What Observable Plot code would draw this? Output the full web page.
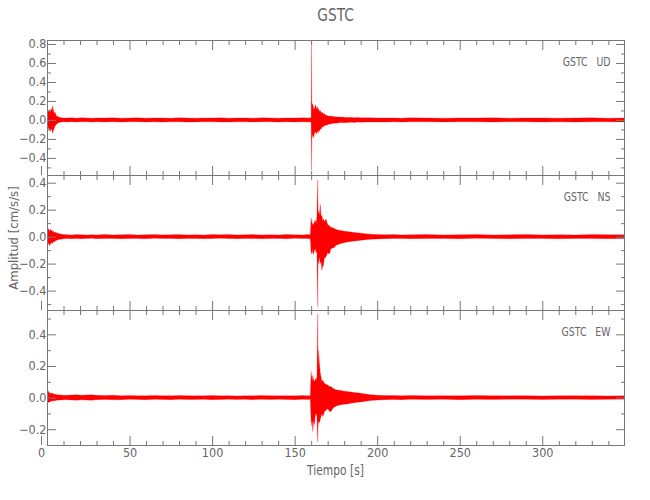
<!DOCTYPE html>
<html><head><meta charset="utf-8">
<script src="https://cdn.jsdelivr.net/npm/d3@7"></script>
<script src="https://cdn.jsdelivr.net/npm/@observablehq/plot@0.6"></script>
<style>
body{margin:0;background:#fff;}
#wrap{position:relative;width:650px;height:500px;font-family:"Liberation Sans Narrow","DejaVu Sans Condensed",sans-serif;color:#666;}
.panel{position:absolute;left:0;}
.panel svg{overflow:visible;}
#title{position:absolute;top:5px;left:47px;width:577px;text-align:center;font-size:17px;transform:scaleX(0.9);}
#xlab{position:absolute;top:462px;left:47px;width:577px;text-align:center;font-size:14px;transform:scaleX(0.85);}
#ylab{position:absolute;left:13px;top:238px;transform:translate(-50%,-50%) rotate(-90deg);white-space:nowrap;font-size:13px;}
</style></head>
<body><div id="wrap">
<div id="title">GSTC</div>
<div id="ylab">Amplitud [cm/s/s]</div>
<div id="xlab">Tiempo [s]</div>
</div>
<script>
// Sample times (s)
const time = [
 0,0.5,1,1.5,2,2.5,3,3.5,4,4.5,5,5.5,6,6.5,7,8,9,10,
 12,15,18,21,24,27,30,35,40,45,50,55,60,65,70,75,80,85,90,95,100,105,110,115,120,125,130,135,140,145,150,155,158,159.5,
 160,160.2,160.4,160.7,161,161.5,162,162.5,163,163.5,164,164.2,164.5,165,165.5,166,166.5,167,167.5,168,169,170,171,172,173,174,175,176,178,180,182,184,186,188,190,193,196,200,
 205,210,215,220,230,240,250,260,270,280,290,300,310,320,330,340,350
];
// UD component envelope (cm/s/s)
const udHi = [
 0.06,0.10,0.09,0.11,0.08,0.12,0.10,0.15,0.09,0.07,0.08,0.05,0.04,0.035,0.03,0.025,0.022,0.02,
 0.02,0.022,0.019,0.024,0.02,0.018,0.021,0.02,0.023,0.019,0.02,0.022,0.018,0.021,0.02,0.019,0.023,0.02,0.018,0.021,0.02,0.022,0.019,0.02,0.021,0.018,0.022,0.02,0.019,0.021,0.02,0.023,0.02,0.021,
 0.03,0.84,0.19,0.15,0.17,0.11,0.12,0.16,0.14,0.11,0.14,0.10,0.12,0.09,0.10,0.08,0.07,0.08,0.06,0.065,0.05,0.045,0.04,0.042,0.035,0.036,0.032,0.03,0.03,0.028,0.026,0.027,0.024,0.025,0.023,0.022,0.023,0.021,
 0.02,0.021,0.019,0.022,0.02,0.018,0.021,0.02,0.022,0.019,0.02,0.021,0.018,0.02,0.022,0.019,0.02
];
const udLo = [
 -0.05,-0.11,-0.08,-0.10,-0.12,-0.09,-0.11,-0.14,-0.10,-0.08,-0.06,-0.05,-0.04,-0.035,-0.03,-0.025,-0.022,-0.02,
 -0.021,-0.019,-0.022,-0.02,-0.018,-0.023,-0.02,-0.021,-0.019,-0.022,-0.02,-0.018,-0.021,-0.02,-0.023,-0.019,-0.02,-0.022,-0.021,-0.018,-0.02,-0.021,-0.022,-0.019,-0.02,-0.021,-0.018,-0.02,-0.022,-0.019,-0.021,-0.02,-0.022,-0.02,
 -0.03,-0.53,-0.21,-0.17,-0.15,-0.19,-0.14,-0.12,-0.15,-0.13,-0.12,-0.14,-0.11,-0.12,-0.09,-0.10,-0.08,-0.07,-0.07,-0.06,-0.055,-0.05,-0.045,-0.04,-0.038,-0.034,-0.035,-0.032,-0.028,-0.03,-0.027,-0.025,-0.026,-0.023,-0.024,-0.023,-0.021,-0.022,
 -0.021,-0.02,-0.022,-0.019,-0.02,-0.021,-0.018,-0.02,-0.022,-0.02,-0.019,-0.021,-0.02,-0.022,-0.019,-0.02,-0.021
];
// NS component envelope
const nsHi = [
 0.03,0.05,0.06,0.04,0.055,0.045,0.05,0.035,0.04,0.03,0.035,0.025,0.03,0.022,0.025,0.02,0.018,0.016,
 0.014,0.013,0.015,0.014,0.012,0.014,0.013,0.016,0.013,0.014,0.015,0.012,0.014,0.015,0.013,0.014,0.015,0.013,0.014,0.012,0.015,0.014,0.015,0.013,0.014,0.015,0.013,0.014,0.012,0.015,0.014,0.013,0.015,0.014,
 0.14,0.10,0.12,0.08,0.10,0.09,0.11,0.12,0.10,0.15,0.42,0.20,0.18,0.16,0.24,0.15,0.16,0.12,0.13,0.11,0.13,0.09,0.08,0.07,0.065,0.06,0.055,0.05,0.045,0.04,0.038,0.035,0.03,0.028,0.026,0.022,0.018,0.016,
 0.014,0.015,0.013,0.014,0.015,0.013,0.014,0.015,0.012,0.014,0.015,0.013,0.014,0.012,0.015,0.014,0.013
];
const nsLo = [
 -0.03,-0.06,-0.045,-0.07,-0.05,-0.055,-0.04,-0.05,-0.035,-0.04,-0.03,-0.03,-0.025,-0.025,-0.022,-0.02,-0.018,-0.016,
 -0.014,-0.015,-0.013,-0.015,-0.014,-0.012,-0.015,-0.013,-0.014,-0.015,-0.013,-0.014,-0.015,-0.012,-0.014,-0.013,-0.015,-0.014,-0.013,-0.015,-0.014,-0.012,-0.014,-0.015,-0.013,-0.014,-0.015,-0.013,-0.014,-0.015,-0.012,-0.014,-0.013,-0.015,
 -0.12,-0.11,-0.13,-0.09,-0.12,-0.13,-0.10,-0.09,-0.12,-0.11,-0.52,-0.18,-0.20,-0.15,-0.20,-0.18,-0.25,-0.22,-0.21,-0.16,-0.15,-0.12,-0.13,-0.09,-0.085,-0.08,-0.065,-0.06,-0.05,-0.045,-0.04,-0.036,-0.033,-0.03,-0.027,-0.024,-0.02,-0.017,
 -0.015,-0.013,-0.014,-0.015,-0.013,-0.014,-0.015,-0.012,-0.014,-0.015,-0.013,-0.014,-0.015,-0.013,-0.014,-0.015,-0.013
];
// EW component envelope
const ewHi = [
 0.03,0.045,0.035,0.03,0.028,0.025,0.03,0.022,0.025,0.02,0.022,0.018,0.02,0.017,0.018,0.016,0.016,0.014,
 0.014,0.016,0.018,0.015,0.017,0.018,0.014,0.013,0.015,0.012,0.013,0.012,0.011,0.013,0.012,0.011,0.013,0.012,0.011,0.012,0.013,0.011,0.012,0.010,0.012,0.011,0.013,0.012,0.011,0.012,0.011,0.013,0.012,0.011,
 0.165,0.12,0.14,0.10,0.14,0.11,0.10,0.12,0.11,0.13,0.53,0.20,0.30,0.22,0.16,0.13,0.10,0.11,0.10,0.09,0.085,0.08,0.07,0.07,0.06,0.055,0.05,0.048,0.045,0.04,0.038,0.035,0.032,0.03,0.027,0.022,0.018,0.015,
 0.013,0.013,0.012,0.013,0.011,0.012,0.011,0.013,0.012,0.011,0.012,0.010,0.011,0.012,0.011,0.010,0.011
];
const ewLo = [
 -0.025,-0.035,-0.03,-0.028,-0.025,-0.022,-0.024,-0.02,-0.022,-0.018,-0.02,-0.018,-0.017,-0.016,-0.017,-0.015,-0.015,-0.014,
 -0.013,-0.015,-0.017,-0.014,-0.016,-0.017,-0.013,-0.012,-0.014,-0.013,-0.011,-0.012,-0.013,-0.011,-0.012,-0.013,-0.011,-0.012,-0.012,-0.011,-0.013,-0.012,-0.010,-0.012,-0.011,-0.013,-0.011,-0.012,-0.011,-0.012,-0.013,-0.011,-0.012,-0.011,
 -0.16,-0.13,-0.18,-0.14,-0.215,-0.15,-0.17,-0.11,-0.10,-0.12,-0.28,-0.18,-0.15,-0.16,-0.14,-0.12,-0.10,-0.12,-0.11,-0.09,-0.08,-0.07,-0.085,-0.09,-0.07,-0.06,-0.055,-0.05,-0.045,-0.042,-0.04,-0.036,-0.033,-0.03,-0.028,-0.023,-0.019,-0.016,
 -0.013,-0.012,-0.013,-0.011,-0.012,-0.011,-0.013,-0.011,-0.012,-0.010,-0.011,-0.012,-0.011,-0.010,-0.012,-0.011,-0.010
];
// Labels and ticks
const channelLabels = ["GSTC\u00a0\u00a0\u00a0UD", "GSTC\u00a0\u00a0\u00a0NS", "GSTC\u00a0\u00a0\u00a0EW"];
const xMajorTicks = [0, 50, 100, 150, 200, 250, 300];
const xMinorTicks = [10,20,30,40,60,70,80,90,110,120,130,140,160,170,180,190,210,220,230,240,260,270,280,290,310,320,330,340];
const udMajor = [-0.4,-0.2,0,0.2,0.4,0.6,0.8];
const udMinor = [-0.5,-0.3,-0.1,0.1,0.3,0.5,0.7];
const nsMajor = [-0.4,-0.2,0,0.2,0.4];
const nsMinor = [-0.5,-0.3,-0.1,0.1,0.3];
const ewMajor = [-0.2,0,0.2,0.4];
const ewMinor = [-0.1,0.1,0.3,0.5];

const wrap = document.getElementById("wrap");
const fmt = d3.format(".1f");
const blank = () => "";

function panel(lo, hi, domain, majors, minors, label, top, isBottom) {
  const n = Math.min(time.length, lo.length, hi.length);
  const rows = [];
  for (let i = 0; i < n; i++) rows.push({t: time[i], lo: lo[i], hi: hi[i]});
  const h = 135 + (isBottom ? 30 : 0);
  const ax = {label: null, stroke: "#777"};
  const chart = Plot.plot({
    width: 650, height: h,
    marginLeft: 47, marginRight: 26, marginTop: 0, marginBottom: isBottom ? 30 : 0,
    style: {fontFamily: '"Liberation Sans Narrow","DejaVu Sans Condensed",sans-serif', fontSize: "12.5px", color: "#666", background: "transparent", overflow: "visible"},
    x: {domain: [0, 349.5]},
    y: {domain},
    marks: [
      Plot.areaY(rows, {x: "t", y1: "lo", y2: "hi", fill: "#ff0000", stroke: "#ff0000", strokeWidth: 0.25, clip: true}),
      Plot.frame({stroke: "#777"}),
      Plot.axisY(majors, {...ax, anchor: "left", tickSize: -9, tickPadding: 10, tickFormat: fmt}),
      Plot.axisY(minors, {...ax, anchor: "left", tickSize: -4, tickFormat: blank}),
      Plot.axisY(majors, {...ax, anchor: "right", tickSize: -9, tickFormat: blank}),
      Plot.axisY(minors, {...ax, anchor: "right", tickSize: -4, tickFormat: blank}),
      Plot.axisX(xMajorTicks, {...ax, anchor: "top", tickSize: -9, tickFormat: blank}),
      Plot.axisX(xMinorTicks, {...ax, anchor: "top", tickSize: -4, tickFormat: blank}),
      Plot.axisX(xMajorTicks.slice(1), {...ax, anchor: "bottom", tickSize: -9, tickPadding: 12, tickFormat: isBottom ? (d => String(d)) : blank}),
      Plot.axisX(xMajorTicks.slice(0, 1), {...ax, anchor: "bottom", tickSize: -9, tickPadding: 12, dx: -6, tickFormat: isBottom ? (d => String(d)) : blank}),
      Plot.axisX(xMinorTicks, {...ax, anchor: "bottom", tickSize: -4, tickFormat: blank}),
      Plot.text([label], {text: d => d, frameAnchor: "top-right", dx: -14, dy: 16, textAnchor: "end", fontSize: 13, fill: "#666"})
    ]
  });
  // narrow the channel label glyphs (the original uses a condensed vector font)
  d3.select(chart).selectAll('g[aria-label="text"] text').attr("transform", function () {
    return (this.getAttribute("transform") || "") + " scale(0.8,1)";
  });
  const div = document.createElement("div");
  div.className = "panel";
  div.style.top = top + "px";
  div.appendChild(chart);
  wrap.appendChild(div);
}

panel(udLo, udHi, [-0.58, 0.842], udMajor, udMinor, channelLabels[0], 40, false);
panel(nsLo, nsHi, [-0.544, 0.457], nsMajor, nsMinor, channelLabels[1], 175, false);
panel(ewLo, ewHi, [-0.30, 0.554], ewMajor, ewMinor, channelLabels[2], 310, true);
</script></body></html>
